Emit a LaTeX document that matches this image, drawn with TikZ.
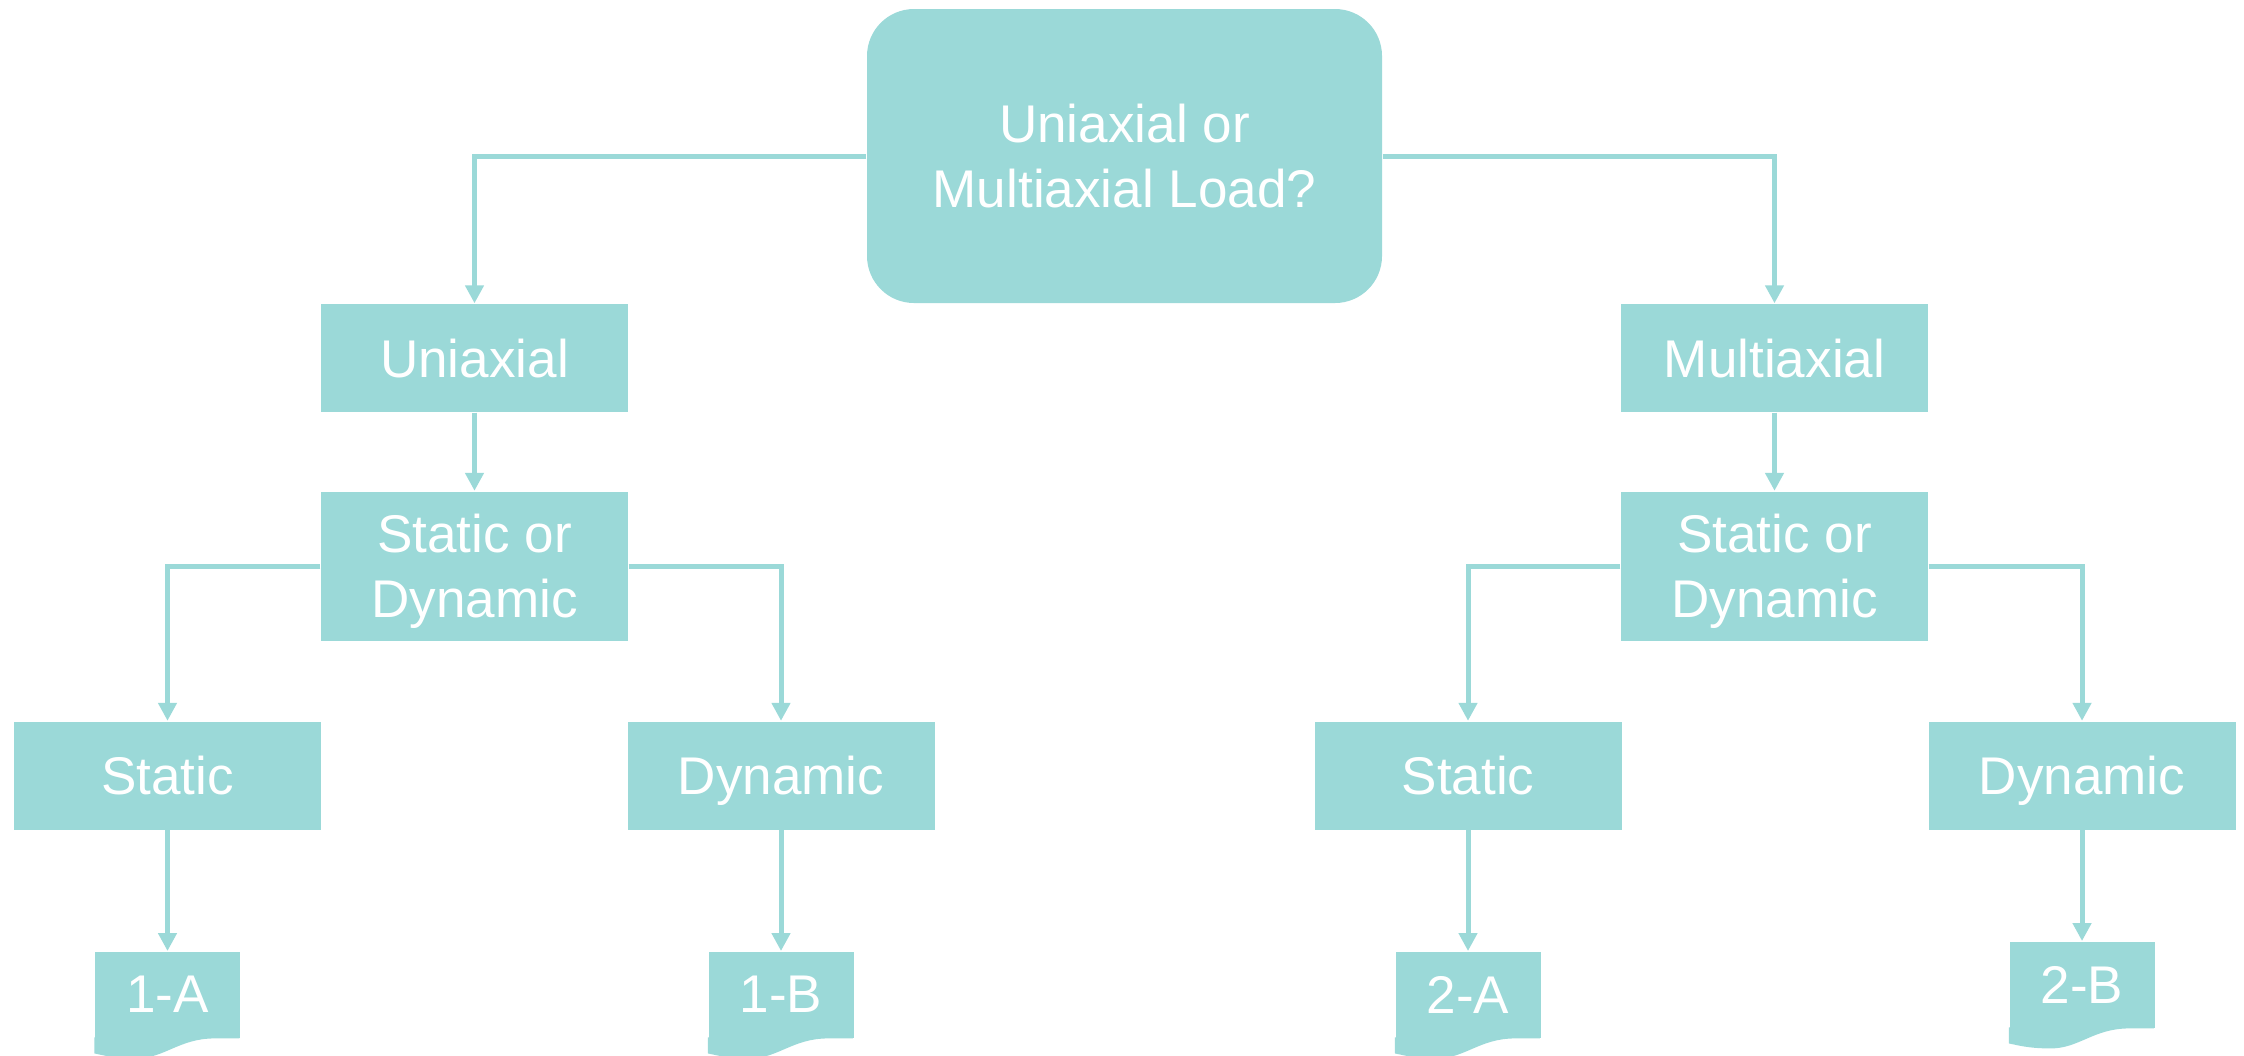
\documentclass[tikz,border=0pt]{standalone}
\usepackage{fontspec}
\setmainfont{Liberation Sans}
\usetikzlibrary{arrows.meta}
\definecolor{tealclaro}{RGB}{155,217,216}
\begin{document}
\begin{tikzpicture}[
    caixa/.style={fill=tealclaro,text=white,minimum width=3.07cm,minimum height=1.08cm,
      align=center,inner sep=0pt,text depth=0pt,font=\fontsize{15.1}{18.5}\selectfont},
    seta/.style={draw=tealclaro,line width=0.05cm,-{Triangle[width=0.18cm,length=0.18cm]}}]
  \def\w{1.45} % largura dos documentos
  \useasboundingbox (0,0) rectangle (22.44,-10.55);
  \node[caixa,rounded corners=0.47cm,minimum width=5.15cm,minimum height=2.94cm] (carga) at (11.245,-1.56) {Uniaxial or\\Multiaxial Load?};
  \node[caixa] (uni) at (4.745,-3.58) {Uniaxial};
  \node[caixa] (multi) at (17.745,-3.58) {Multiaxial};
  \node[caixa,minimum height=1.49cm] (sd1) at (4.745,-5.66) {Static or\\Dynamic};
  \node[caixa,minimum height=1.49cm] (sd2) at (17.745,-5.66) {Static or\\Dynamic};
  \node[caixa] (st1) at (1.675,-7.755) {Static};
  \node[caixa] (dy1) at (7.81,-7.755) {Dynamic};
  \node[caixa] (st2) at (14.68,-7.755) {Static};
  \node[caixa] (dy2) at (20.82,-7.755) {Dynamic};
  \node[caixa,minimum width=\w cm,minimum height=0.86cm,anchor=north] (d1a) at (1.675,-9.51) {1-A};
  \node[caixa,minimum width=\w cm,minimum height=0.86cm,anchor=north] (d1b) at (7.81,-9.51) {1-B};
  \node[caixa,minimum width=\w cm,minimum height=0.86cm,anchor=north] (d2a) at (14.68,-9.51) {2-A};
  \node[caixa,minimum width=\w cm,minimum height=0.86cm,anchor=north] (d2b) at (20.82,-9.41) {2-B};
  \foreach \d in {d1a,d1b,d2a,d2b}
    \fill[tealclaro,shift={(\d.south west)}] (0,0.01) -- (\w,0.01) -- (\w,0) -- (1.2,0)
      .. controls (0.85,0) and (0.7,-0.2) .. (0.42,-0.2)
      .. controls (0.2,-0.2) and (0.1,-0.17) .. (0,-0.15) -- cycle;
  \draw[seta] (carga.west) -| (uni.north);
  \draw[seta] (carga.east) -| (multi.north);
  \draw[seta] (uni) -- (sd1);
  \draw[seta] (multi) -- (sd2);
  \draw[seta] (sd1.west) -| (st1.north);
  \draw[seta] (sd1.east) -| (dy1.north);
  \draw[seta] (sd2.west) -| (st2.north);
  \draw[seta] (sd2.east) -| (dy2.north);
  \draw[seta] (st1) -- (d1a);
  \draw[seta] (dy1) -- (d1b);
  \draw[seta] (st2) -- (d2a);
  \draw[seta] (dy2) -- (d2b);
\end{tikzpicture}
\end{document}
